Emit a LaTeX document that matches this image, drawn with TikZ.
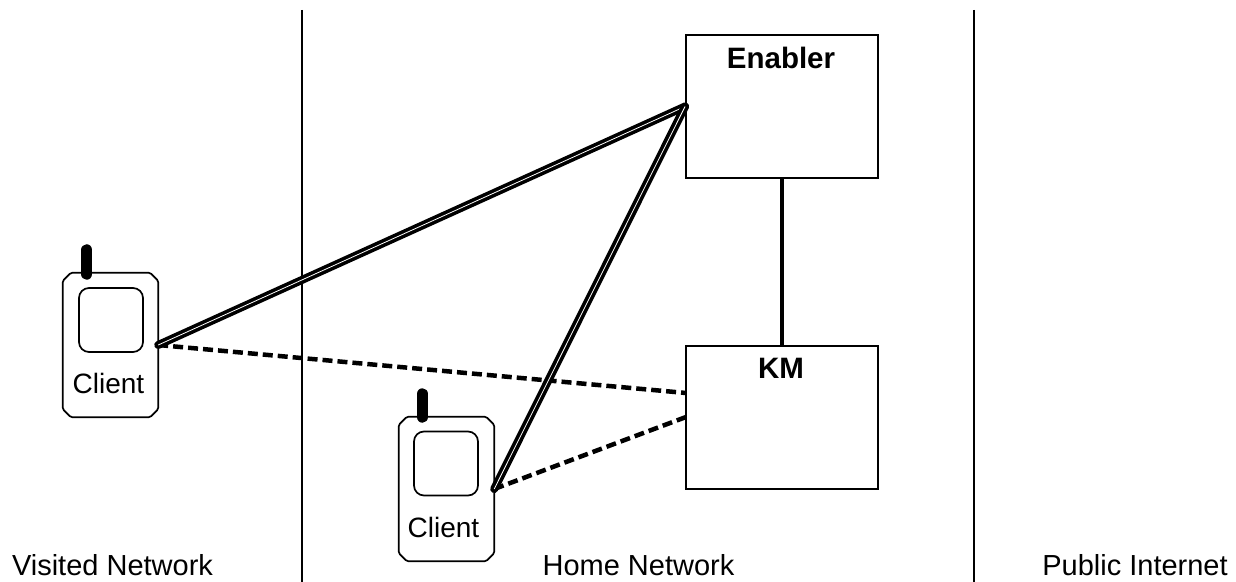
\documentclass[tikz,border=0pt]{standalone}
\usepackage{fontspec}
\setmainfont{Liberation Sans}
\tikzset{
  box/.style={draw,line width=1.9bp,minimum width=192bp,minimum height=143bp,inner sep=0pt},
  phonebody/.style={minimum width=95bp,minimum height=144bp,inner sep=0pt},
  phoneline/.style={line width=1.7bp,line join=round,rounded corners=1.5bp},
  phonescreen/.style={draw,line width=1.7bp,rounded corners=10bp,minimum width=64bp,minimum height=64bp,inner sep=0pt},
  antenna/.style={line width=11.5bp,line cap=round},
  txt/.style={font=\fontsize{29bp}{32bp}\selectfont,inner sep=0pt,anchor=base},
  clienttxt/.style={font=\fontsize{28bp}{30bp}\selectfont,inner sep=0pt,anchor=base},
  boldtxt/.style={font=\fontsize{29.5bp}{32bp}\selectfont\bfseries,inner sep=0pt,anchor=base},
  divider/.style={line width=1.8bp},
  linkthick/.style={line width=8bp,draw=black,line cap=round,postaction={draw=white,line width=0.8bp,line cap=butt}},
  dashlink/.style={line width=4.5bp,dash pattern=on 10bp off 5bp},
  solidlink/.style={line width=3.5bp}
}
\begin{document}
\begin{tikzpicture}[x=1bp,y=-1bp]
\useasboundingbox (0,0) rectangle (1236,582);
\coordinate (d1t) at (302,10); \coordinate (d1b) at (302,582);
\coordinate (d2t) at (974,10); \coordinate (d2b) at (974,582);
\draw[divider] (d1t) -- (d1b);
\draw[divider] (d2t) -- (d2b);
\node[box] (enabler) at (782,106.5) {};
\node[box] (km) at (782,417.5) {};
\node[boldtxt] (enablerlabel) at (781,69) {Enabler};
\node[boldtxt] (kmlabel) at (781,378) {KM};
\node[phonebody] (p1) at (110.5,345) {};
\draw[phoneline] ([xshift=8bp]p1.north west) -- ([xshift=-8bp]p1.north east) -- ([yshift=-8bp]p1.north east) -- ([yshift=8bp]p1.south east) -- ([xshift=-8bp]p1.south east) -- ([xshift=8bp]p1.south west) -- ([yshift=8bp]p1.south west) -- ([yshift=-8bp]p1.north west) -- cycle;
\node[phonescreen] (s1) at (111,320) {};
\node[clienttxt] (c1) at (108.5,393) {Client};
\coordinate (a1t) at (86.7,250); \coordinate (a1b) at (86.7,274);
\draw[antenna] (a1t) -- (a1b);
\node[phonebody] (p2) at (446.5,489) {};
\draw[phoneline] ([xshift=8bp]p2.north west) -- ([xshift=-8bp]p2.north east) -- ([yshift=-8bp]p2.north east) -- ([yshift=8bp]p2.south east) -- ([xshift=-8bp]p2.south east) -- ([xshift=8bp]p2.south west) -- ([yshift=8bp]p2.south west) -- ([yshift=-8bp]p2.north west) -- cycle;
\node[phonescreen] (s2) at (446,463.5) {};
\node[clienttxt] (c2) at (443.5,537) {Client};
\coordinate (a2t) at (422.4,394); \coordinate (a2b) at (422.4,417);
\draw[antenna] (a2t) -- (a2b);
\draw[solidlink] (enabler.south) -- (km.north);
\coordinate (k1) at (686,393);
\coordinate (k2) at (686,417);
\draw[dashlink] (p1.east) -- (k1);
\draw[dashlink] (p2.east) -- (k2);
\draw[linkthick] (p1.east) -- (enabler.west);
\draw[linkthick] (p2.east) -- (enabler.west);
\node[txt] (l1) at (112.5,575) {Visited Network};
\node[txt] (l2) at (638.5,575) {Home Network};
\node[txt] (l3) at (1135,575) {Public Internet};
\end{tikzpicture}
\end{document}
